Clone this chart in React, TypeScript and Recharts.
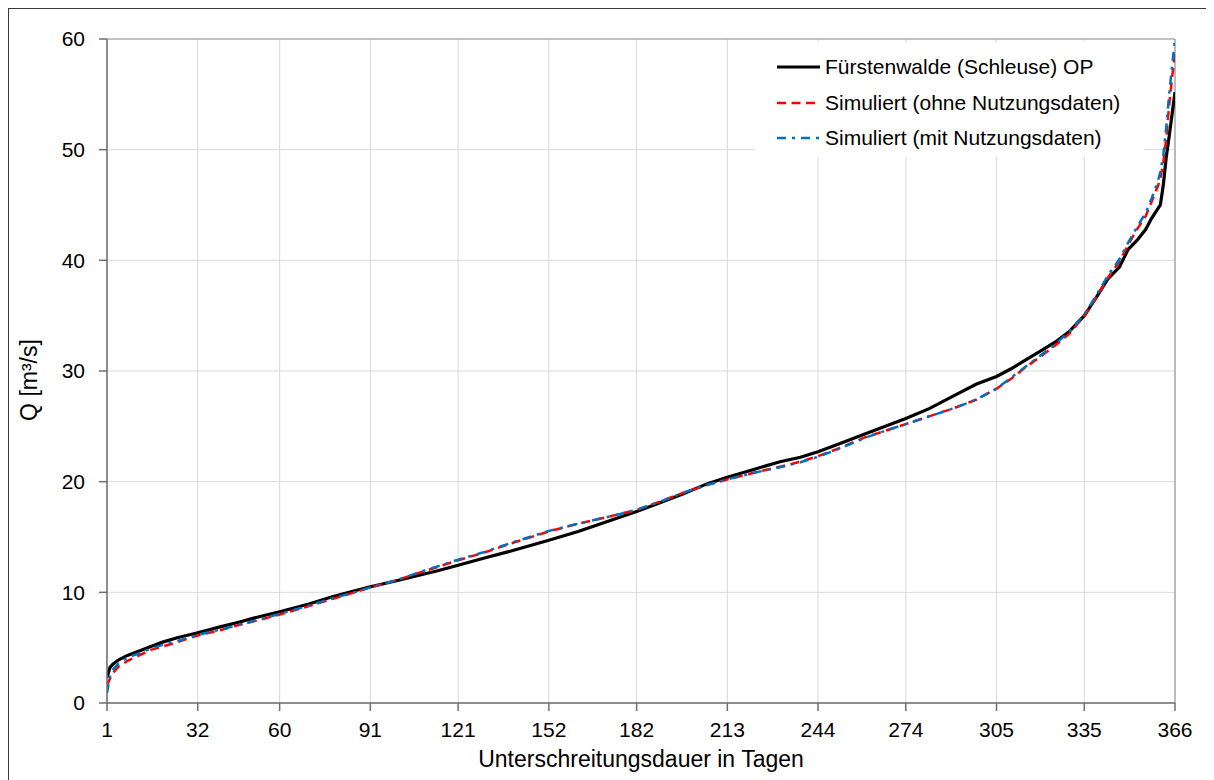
import React from "react";
import {
  LineChart,
  Line,
  XAxis,
  YAxis,
  CartesianGrid,
  Legend,
  ReferenceLine,
} from "recharts";

const days = [
  1, 2, 3, 5, 8, 12, 16, 20, 25, 32, 40, 46, 53, 60, 70, 78, 85, 91, 100, 107,
  114, 121, 130, 140, 152, 162, 172, 182, 190, 198, 206, 213, 222, 231, 238,
  244, 252, 260, 267, 274, 282, 290, 298, 305, 310, 315, 320, 325, 330, 335,
  339, 343, 347, 350, 353, 356, 358, 360, 361, 362, 363, 364, 365, 366,
];

const observed = [
  2.3, 3.2, 3.5, 3.9, 4.3, 4.7, 5.1, 5.5, 5.9, 6.35, 6.9, 7.3, 7.8, 8.25, 8.95,
  9.6, 10.1, 10.5, 11.05, 11.5, 11.95, 12.45, 13.1, 13.8, 14.7, 15.5, 16.4,
  17.3, 18.1, 18.9, 19.8, 20.4, 21.1, 21.8, 22.2, 22.7, 23.5, 24.3, 25.0, 25.7,
  26.6, 27.7, 28.8, 29.5, 30.2, 31.0, 31.8, 32.6, 33.6, 35.0, 36.6, 38.3, 39.4,
  41.0, 41.8, 42.8, 43.8, 44.6, 45.0, 46.8, 49.3, 51.2, 53.2, 55.2,
];

const simOhne = [
  1.6, 2.2, 2.7, 3.3, 3.8, 4.3, 4.8, 5.1, 5.5, 6.1, 6.6, 7.05, 7.5, 8.0, 8.75,
  9.4, 9.95, 10.45, 11.1, 11.7, 12.3, 12.9, 13.6, 14.5, 15.5, 16.2, 16.8,
  17.45, 18.2, 19.0, 19.7, 20.2, 20.8, 21.35, 21.8, 22.3, 23.1, 24.0, 24.6,
  25.2, 25.9, 26.6, 27.4, 28.4, 29.3, 30.35, 31.3, 32.3, 33.4, 35.0, 36.6,
  38.4, 39.9, 41.4, 42.8, 44.0, 45.3, 46.6, 47.4, 48.8, 51.0, 54.0, 56.5, 58.8,
];

const simMit = [
  0.9, 2.4, 3.0, 3.6, 4.1, 4.5, 4.9, 5.25, 5.6, 6.15, 6.65, 7.05, 7.55, 8.05,
  8.8, 9.45, 9.95, 10.45, 11.1, 11.75, 12.35, 12.95, 13.65, 14.55, 15.55, 16.2,
  16.8, 17.45, 18.2, 19.0, 19.7, 20.2, 20.8, 21.3, 21.75, 22.25, 23.05, 23.95,
  24.6, 25.2, 25.9, 26.6, 27.4, 28.4, 29.4, 30.4, 31.4, 32.4, 33.6, 35.1,
  36.8, 38.6, 40.1, 41.6, 43.0, 44.3, 45.6, 47.0, 48.0, 49.5, 52.0, 55.0, 57.5,
  60.0,
];

const xTicks = [1, 32, 60, 91, 121, 152, 182, 213, 244, 274, 305, 335, 366];
const yTicks = [0, 10, 20, 30, 40, 50, 60];

const seriesNames = [
  "Fürstenwalde (Schleuse) OP",
  "Simuliert (ohne Nutzungsdaten)",
  "Simuliert (mit Nutzungsdaten)",
];
const xTitle = "Unterschreitungsdauer in Tagen";
const yTitle = "Q [m³/s]";

const data = days.map((d, i) => ({
  day: d,
  obs: observed[i],
  ohne: simOhne[i],
  mit: simMit[i],
}));

const FONT = '"Liberation Sans", Arial, sans-serif';

const legendItems = [
  { name: seriesNames[0], color: "#000000", width: 3, dash: undefined as string | undefined },
  { name: seriesNames[1], color: "#ff0000", width: 2.5, dash: "9 5.5" },
  { name: seriesNames[2], color: "#0070c0", width: 2.5, dash: "9 6 3 6" },
];

const LegendContent = () => (
  <div
    style={{
      position: "relative",
      width: 389,
      height: 115,
      background: "#ffffff",
      fontFamily: FONT,
      fontSize: 21,
      color: "#000",
    }}
  >
    {legendItems.map((it, i) => (
      <div
        key={it.name}
        style={{
          position: "absolute",
          left: 22,
          top: 13 + i * 35.5,
          height: 24,
          lineHeight: "24px",
          display: "flex",
          alignItems: "center",
          whiteSpace: "nowrap",
        }}
      >
        <svg width={43} height={6} style={{ display: "block" }}>
          <line
            x1={0}
            y1={3}
            x2={43}
            y2={3}
            stroke={it.color}
            strokeWidth={it.width}
            strokeDasharray={it.dash}
          />
        </svg>
        <span style={{ marginLeft: 5 }}>{it.name}</span>
      </div>
    ))}
  </div>
);

export default function App() {
  return (
    <div
      style={{
        position: "relative",
        width: 1206,
        height: 772,
        borderTop: "1px solid #3a3a3a",
        borderLeft: "1px solid #3a3a3a",
        boxSizing: "border-box",
        background: "#fff",
        fontFamily: FONT,
      }}
    >
      <LineChart
        width={1205}
        height={771}
        data={data}
        margin={{ top: 30, right: 39, left: 38, bottom: 47 }}
      >
        <CartesianGrid stroke="#d9d9d9" strokeWidth={1} />
        <XAxis
          dataKey="day"
          type="number"
          domain={[1, 366]}
          ticks={xTicks}
          interval={0}
          height={30}
          tickSize={8}
          tickMargin={11}
          stroke="#6e6e6e"
          strokeWidth={1.5}
          tick={{ fill: "#000", fontSize: 21, fontFamily: FONT }}
          allowDataOverflow
        />
        <YAxis
          type="number"
          domain={[0, 60]}
          ticks={yTicks}
          interval={0}
          width={60}
          tickSize={8}
          tickMargin={14}
          stroke="#6e6e6e"
          strokeWidth={1.5}
          tick={{ fill: "#000", fontSize: 21, fontFamily: FONT }}
          allowDataOverflow
        />
        <ReferenceLine y={60} stroke="#9a9a9a" strokeWidth={1.2} ifOverflow="extendDomain" />
        <ReferenceLine x={366} stroke="#9a9a9a" strokeWidth={1.2} ifOverflow="extendDomain" />
        <Legend
          layout="horizontal"
          verticalAlign="middle"
          align="center"
          content={() => <LegendContent />}
          wrapperStyle={{ left: 746, top: 33, width: 389, height: 115 }}
        />
        <Line
          type="linear"
          dataKey="obs"
          name={seriesNames[0]}
          stroke="#000000"
          strokeWidth={3.2}
          dot={false}
          activeDot={false}
          isAnimationActive={false}
        />
        <Line
          type="linear"
          dataKey="ohne"
          name={seriesNames[1]}
          stroke="#ff0000"
          strokeWidth={2.5}
          strokeDasharray="9 5.5"
          dot={false}
          activeDot={false}
          isAnimationActive={false}
        />
        <Line
          type="linear"
          dataKey="mit"
          name={seriesNames[2]}
          stroke="#0070c0"
          strokeWidth={2.5}
          strokeDasharray="9 6 3 6"
          dot={false}
          activeDot={false}
          isAnimationActive={false}
        />
      </LineChart>
      <div
        style={{
          position: "absolute",
          left: 98,
          top: 737,
          width: 1068,
          textAlign: "center",
          fontSize: 23,
          lineHeight: "26px",
          color: "#000",
          whiteSpace: "nowrap",
        }}
      >
        {xTitle}
      </div>
      <div
        style={{
          position: "absolute",
          left: 20,
          top: 371,
          transform: "translate(-50%, -50%) rotate(-90deg)",
          fontSize: 23,
          lineHeight: "26px",
          color: "#000",
          whiteSpace: "nowrap",
        }}
      >
        {yTitle}
      </div>
    </div>
  );
}
